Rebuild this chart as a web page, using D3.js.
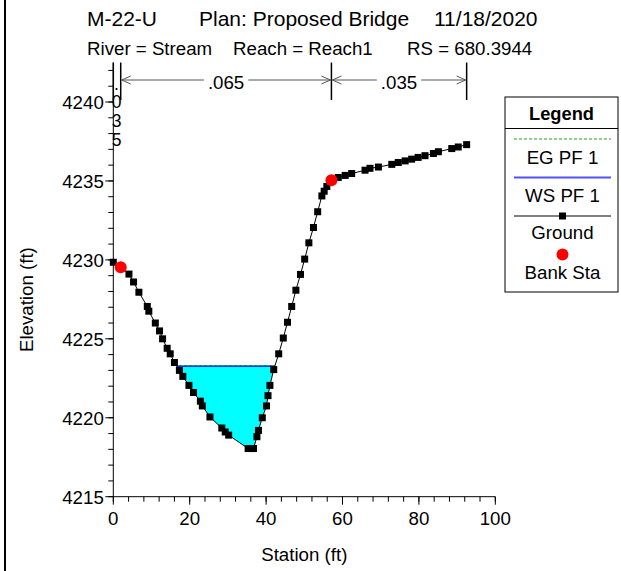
<!DOCTYPE html>
<html>
<head>
<meta charset="utf-8">
<script src="https://cdn.jsdelivr.net/npm/d3@7"></script>
<style>
  html, body { margin: 0; padding: 0; background: #fff; }
  svg { display: block; font-family: "Liberation Sans", Arial, sans-serif; }
</style>
</head>
<body>
<svg id="chart" width="621" height="571"></svg>
<script>
// Cross-section ground points (station ft, elevation ft)
const stations = [0, 1.94, 4.1, 5.3, 6.7, 8.9, 9.3, 11.0, 12.1, 12.9, 14.1, 14.9, 16.0, 17.3, 18.2,
  19.8, 21.0, 22.8, 23.3, 25.3, 28.4, 29.3, 30.2, 35.3, 36.7, 37.6, 38.0, 39.0, 40.1, 40.5,
  41.0, 42.0, 43.3, 44.5, 45.6, 46.7, 47.8, 49.0, 50.1, 51.2, 52.4, 53.5, 54.6, 55.2, 55.9,
  57.1, 58.9, 60.7, 62.4, 65.9, 67.2, 69.4, 72.9, 74.6, 76.4, 78.1, 79.8, 81.6, 83.8, 85.1,
  88.6, 90.3, 92.5];
const elevations = [4229.85, 4229.53, 4229.1, 4228.6, 4227.95, 4227.05, 4226.75, 4226.0, 4225.5, 4225.0, 4224.4, 4224.05, 4223.5, 4223.0, 4222.62,
  4222.05, 4221.6, 4221.05, 4220.75, 4220.05, 4219.35, 4219.1, 4218.9, 4218.05, 4218.05, 4218.8, 4219.2, 4220.0, 4220.75, 4221.4,
  4222.05, 4223.05, 4224.05, 4225.05, 4226.05, 4227.05, 4228.08, 4229.08, 4230.05, 4231.08, 4232.05, 4233.05, 4234.05, 4234.35, 4234.65,
  4235.05, 4235.22, 4235.35, 4235.47, 4235.68, 4235.8, 4235.88, 4236.05, 4236.17, 4236.27, 4236.38, 4236.49, 4236.6, 4236.74, 4236.85,
  4237.05, 4237.15, 4237.3];

// Bank stations
const bankStations = [1.94, 57.1];
const bankElevations = [4229.53, 4235.05];

// Profile results
const wsElevation = 4223.28;   // WS PF 1
const egElevation = 4223.31;   // EG PF 1

// Manning's n regions: break stations and values
const nBreaks = [0, 1.94, 57.1, 92.5];
const nValues = [".035", ".065", ".035"];

// Axis ticks
const xTicks = [0, 20, 40, 60, 80, 100];
const yTicks = [4215, 4220, 4225, 4230, 4235, 4240];

const titleParts = ["M-22-U", "Plan: Proposed Bridge", "11/18/2020"];
const subtitleParts = ["River = Stream", "Reach = Reach1", "RS = 680.3944"];
const legendItems = ["EG PF 1", "WS PF 1", "Ground", "Bank Sta"];

const FS = 18.7;
const svg = d3.select("#chart");
const left = 113.3, right = 495.3, bottom = 496.7;

const x = d3.scaleLinear().domain([0, 100]).range([left, right]);
const y = d3.scaleLinear().domain([4215, 4240]).range([bottom, 102]);
const yTop = 4242.5;

// page frame edge
svg.append("line").attr("x1", 5).attr("x2", 5).attr("y1", 0).attr("y2", 571)
  .attr("stroke", "#000").attr("stroke-width", 2);

// titles
const tx = [87, 199, 434];
svg.selectAll("text.title").data(titleParts).join("text")
  .attr("class", "title").attr("x", (d, i) => tx[i]).attr("y", 26)
  .attr("font-size", 21).text(d => d);
const sx = [87, 233, 407];
svg.selectAll("text.sub").data(subtitleParts).join("text")
  .attr("class", "sub").attr("x", (d, i) => sx[i]).attr("y", 55)
  .attr("font-size", FS).text(d => d);

// water area below the water surface
const pts = stations.map((s, i) => [s, elevations[i]]);
function waterPolygon(level) {
  const poly = [];
  for (let i = 0; i < pts.length - 1; i++) {
    const [s0, e0] = pts[i], [s1, e1] = pts[i + 1];
    if (e0 <= level) poly.push([s0, e0]);
    if ((e0 - level) * (e1 - level) < 0) {
      const t = (level - e0) / (e1 - e0);
      poly.push([s0 + t * (s1 - s0), level]);
    }
  }
  return poly;
}
const wp = waterPolygon(wsElevation);
svg.append("path")
  .attr("d", d3.line().x(d => x(d[0])).y(d => y(d[1]))(wp) + "Z")
  .attr("fill", "#00ffff").attr("stroke", "none");
const wsX0 = wp[0][0], wsX1 = wp[wp.length - 1][0];
svg.append("line").attr("x1", x(wsX0)).attr("x2", x(wsX1))
  .attr("y1", y(wsElevation)).attr("y2", y(wsElevation))
  .attr("stroke", "#0000ff").attr("stroke-width", 1.5);
svg.append("line").attr("x1", x(wsX0)).attr("x2", x(wsX1))
  .attr("y1", y(egElevation)).attr("y2", y(egElevation))
  .attr("stroke", "#33aa33").attr("stroke-width", 1).attr("stroke-dasharray", "3,2");

// axes
const xAxis = svg.append("g").attr("transform", `translate(0,${bottom})`);
xAxis.append("line").attr("x1", left).attr("x2", right).attr("stroke", "#000");
xAxis.selectAll("line.minor").data(d3.range(0, 101, 4)).join("line")
  .attr("class", "minor").attr("x1", d => x(d)).attr("x2", d => x(d))
  .attr("y1", 0).attr("y2", 5).attr("stroke", "#000");
xAxis.selectAll("line.major").data(xTicks).join("line")
  .attr("class", "major").attr("x1", d => x(d)).attr("x2", d => x(d))
  .attr("y1", 0).attr("y2", 8).attr("stroke", "#000");
xAxis.selectAll("text").data(xTicks).join("text")
  .attr("x", d => x(d)).attr("y", 28.5).attr("text-anchor", "middle")
  .attr("font-size", FS).text(d => d);

const yAxis = svg.append("g");
yAxis.append("line").attr("x1", left).attr("x2", left)
  .attr("y1", bottom).attr("y2", y(yTop)).attr("stroke", "#000");
yAxis.selectAll("line.minor").data(d3.range(4215, 4243, 1)).join("line")
  .attr("class", "minor").attr("x1", left - 5).attr("x2", left)
  .attr("y1", d => y(d)).attr("y2", d => y(d)).attr("stroke", "#000");
yAxis.selectAll("line.major").data(yTicks).join("line")
  .attr("class", "major").attr("x1", left - 8).attr("x2", left)
  .attr("y1", d => y(d)).attr("y2", d => y(d)).attr("stroke", "#000");
yAxis.selectAll("text").data(yTicks).join("text")
  .attr("x", left - 9.5).attr("y", d => y(d) + 7).attr("text-anchor", "end")
  .attr("font-size", FS).text(d => d);

svg.append("text").attr("x", (left + right) / 2).attr("y", 561)
  .attr("text-anchor", "middle").attr("font-size", FS).text("Station (ft)");
svg.append("text").attr("transform", `translate(33,${(bottom + y(yTop)) / 2 + 20}) rotate(-90)`)
  .attr("text-anchor", "middle").attr("font-size", FS).text("Elevation (ft)");

// Manning's n markers along the top
const nTop = y(yTop), nBot = 100, nArrowY = 80;
svg.selectAll("line.nbreak").data(nBreaks).join("line")
  .attr("class", "nbreak").attr("x1", d => x(d)).attr("x2", d => x(d))
  .attr("y1", nTop).attr("y2", nBot).attr("stroke", "#000").attr("stroke-width", 1.5);
function chevron(px, dir) {
  return `M${px + dir * 9},${nArrowY - 4} L${px},${nArrowY} L${px + dir * 9},${nArrowY + 4}`;
}
nValues.forEach((v, i) => {
  const a = x(nBreaks[i]), b = x(nBreaks[i + 1]);
  if (b - a < 20) {
    // narrow region: value written vertically
    const chars = v.split("");
    svg.selectAll(null).data(chars).join("text")
      .attr("x", (a + b) / 2 - 0.5).attr("y", (d, k) => 89.5 + k * 18.8)
      .attr("text-anchor", "middle").attr("font-size", 17.5).text(d => d);
    return;
  }
  const mid = (a + b) / 2;
  const label = svg.append("text").attr("x", mid).attr("y", nArrowY + 9)
    .attr("text-anchor", "middle").attr("font-size", FS).text(v);
  const w = label.node().getComputedTextLength();
  svg.append("line").attr("x1", a + 1).attr("x2", mid - w / 2 - 4)
    .attr("y1", nArrowY).attr("y2", nArrowY).attr("stroke", "#555");
  svg.append("line").attr("x1", mid + w / 2 + 4).attr("x2", b - 1)
    .attr("y1", nArrowY).attr("y2", nArrowY).attr("stroke", "#555");
  svg.append("path").attr("d", chevron(a + 1, 1)).attr("fill", "none").attr("stroke", "#555");
  svg.append("path").attr("d", chevron(b - 1, -1)).attr("fill", "none").attr("stroke", "#555");
});

// ground line and markers
svg.append("path")
  .attr("d", d3.line().x(d => x(d[0])).y(d => y(d[1]))(pts))
  .attr("fill", "none").attr("stroke", "#000").attr("stroke-width", 1);
svg.selectAll("rect.pt").data(pts).join("rect")
  .attr("class", "pt").attr("x", d => x(d[0]) - 3.5).attr("y", d => y(d[1]) - 3.5)
  .attr("width", 7).attr("height", 7).attr("fill", "#000");

// bank stations
svg.selectAll("circle.bank").data(bankStations).join("circle")
  .attr("class", "bank").attr("cx", d => x(d)).attr("cy", (d, i) => y(bankElevations[i]))
  .attr("r", 6).attr("fill", "#ff0000");

// legend
const lg = svg.append("g");
const L = 505, R = 618, T = 97, B = 292;
lg.append("rect").attr("x", L).attr("y", T).attr("width", R - L).attr("height", B - T)
  .attr("fill", "#fff").attr("stroke", "#000");
lg.append("text").attr("x", (L + R) / 2).attr("y", 120).attr("text-anchor", "middle")
  .attr("font-size", 18.3).attr("font-weight", "bold").text("Legend");
lg.append("line").attr("x1", L).attr("x2", R).attr("y1", 128.5).attr("y2", 128.5).attr("stroke", "#000");
const lx0 = 514, lx1 = 611, cx = (lx0 + lx1) / 2;
lg.append("line").attr("x1", lx0).attr("x2", lx1).attr("y1", 139).attr("y2", 139)
  .attr("stroke", "#22a022").attr("stroke-dasharray", "3,2");
lg.append("line").attr("x1", lx0).attr("x2", lx1).attr("y1", 177.5).attr("y2", 177.5)
  .attr("stroke", "#5050ff").attr("stroke-width", 2);
lg.append("line").attr("x1", lx0).attr("x2", lx1).attr("y1", 216).attr("y2", 216).attr("stroke", "#000");
lg.append("rect").attr("x", cx - 3.5).attr("y", 212.5).attr("width", 7).attr("height", 7).attr("fill", "#000");
lg.append("circle").attr("cx", cx).attr("cy", 254.5).attr("r", 6).attr("fill", "#ff0000");
const legendY = [163.5, 201.5, 238.5, 279];
lg.selectAll("text.item").data(legendItems).join("text")
  .attr("class", "item").attr("x", cx).attr("y", (d, i) => legendY[i])
  .attr("text-anchor", "middle").attr("font-size", FS).text(d => d);
</script>
</body>
</html>
